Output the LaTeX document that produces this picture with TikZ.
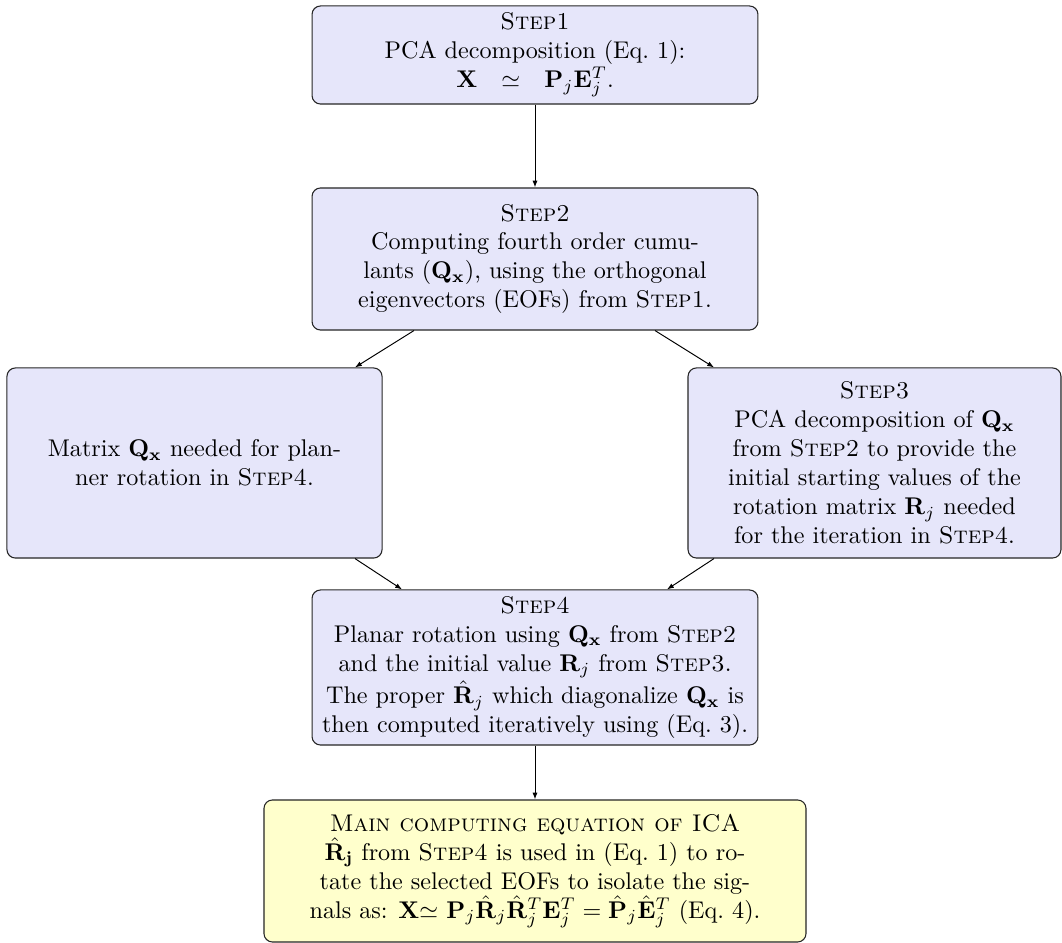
\documentclass[tikz,border=0pt]{standalone}
\usetikzlibrary{arrows.meta}
\definecolor{boxblue}{RGB}{230,230,250}
\definecolor{boxyellow}{RGB}{255,255,204}
\begin{document}
\begin{tikzpicture}[x=0.414pt,y=-0.414pt,
  stepbox/.style={draw=black!85, line width=0.45pt, fill=boxblue, rounded corners=3.5pt,
    align=center, inner sep=0pt, font=\normalsize},
  mainbox/.style={stepbox, fill=boxyellow},
  arr/.style={-{Latex[length=2.8pt,width=2.1pt]}, line width=0.4pt}]
\useasboundingbox (0,0) rectangle (1062,943);
\node[stepbox, minimum width=184.6pt, minimum height=40.6pt] (s1) at (535,55)
  {\textsc{Step1}\\PCA decomposition (Eq.~1):\\$\mathbf{X}\quad{\simeq}\quad\mathbf{P}_j\mathbf{E}_j^T.$};
\node[stepbox, minimum width=184.6pt, minimum height=58.8pt] (s2) at (535,259)
  {\textsc{Step2}\\Computing fourth order cumu-\\lants ($\mathbf{Q}_\mathbf{x}$), using the orthogonal\\eigenvectors (EOFs) from \textsc{Step1}.};
\node[stepbox, minimum width=155.3pt, minimum height=78.7pt] (lb) at (194.5,463)
  {Matrix $\mathbf{Q}_\mathbf{x}$ needed for plan-\\ner rotation in \textsc{Step4}.};
\node[stepbox, minimum width=154.4pt, minimum height=78.7pt] (s3) at (874.5,463)
  {\textsc{Step3}\\PCA decomposition of $\mathbf{Q}_\mathbf{x}$\\from \textsc{Step2} to provide the\\initial starting values of the\\rotation matrix $\mathbf{R}_j$ needed\\for the iteration in \textsc{Step4}.};
\node[stepbox, minimum width=184.6pt, minimum height=64.2pt] (s4) at (535,667.5)
  {\textsc{Step4}\\Planar rotation using $\mathbf{Q}_\mathbf{x}$ from \textsc{Step2}\\and the initial value $\mathbf{R}_j$ from \textsc{Step3}.\\The proper $\hat{\mathbf{R}}_j$ which diagonalize $\mathbf{Q}_\mathbf{x}$ is\\then computed iteratively using (Eq.~3).};
\node[mainbox, minimum width=224.4pt, minimum height=58.8pt] (m) at (535,871)
  {\textsc{Main computing equation of ICA}\\$\hat{\mathbf{R}}_\mathbf{j}$ from \textsc{Step4} is used in (Eq.~1) to ro-\\tate the selected EOFs to isolate the sig-\\nals as: $\mathbf{X}{\simeq}$ $\mathbf{P}_j\hat{\mathbf{R}}_j\hat{\mathbf{R}}_j^T\mathbf{E}_j^T=\hat{\mathbf{P}}_j\hat{\mathbf{E}}_j^T$ (Eq.~4).};
\draw[arr] (s1.south) -- (s2.north);
\draw[arr] (s2.south -| 414,0) -- (lb.north -| 355,0);
\draw[arr] (s2.south -| 655,0) -- (s3.north -| 714,0);
\draw[arr] (lb.south -| 355,0) -- (s4.north -| 402,0);
\draw[arr] (s3.south -| 714,0) -- (s4.north -| 667,0);
\draw[arr] (s4.south) -- (m.north);
\end{tikzpicture}
\end{document}
